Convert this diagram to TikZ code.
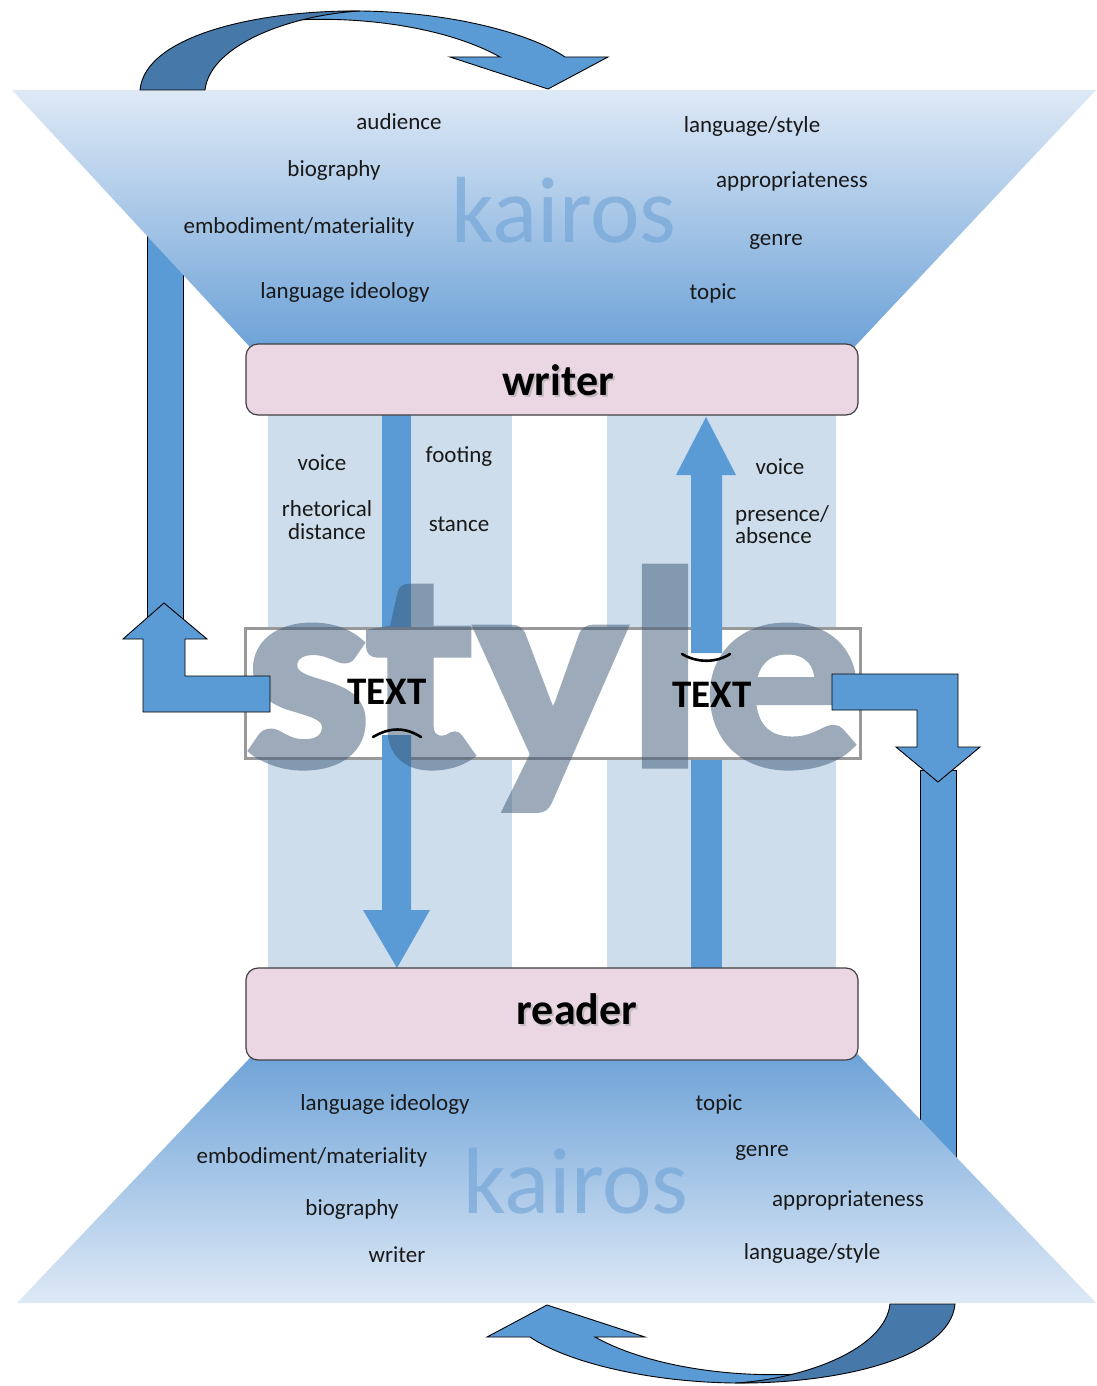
\documentclass[tikz,border=0pt]{standalone}
\usepackage{fontspec}
\setmainfont{Carlito}
\newfontfamily\stylefont{Carlito}[FakeStretch=1.12, FakeBold=2.5]
\definecolor{arrowblue}{RGB}{91,155,213}
\definecolor{arrowdark}{RGB}{70,121,170}
\definecolor{funnellight}{RGB}{222,233,246}
\definecolor{funneldark}{RGB}{104,159,214}
\definecolor{columnblue}{RGB}{205,221,235}
\definecolor{rolefill}{RGB}{234,215,227}
\definecolor{stylegray}{RGB}{58,86,116}
\definecolor{kairosblue}{RGB}{112,163,214}

% curved "turn" arrow: a light front band with its head and a dark back band
\newcommand\turnarrowshape{%
  \filldraw[blockarrow] (296,20) .. controls (330,12) and (345,11) .. (360,11)
    .. controls (450,12) and (530,33) .. (565,57) -- (608,57) -- (548,89)
    -- (450,57) -- (500,57) .. controls (452,30) and (372,16) .. (296,20) -- cycle;
  \filldraw[blockarrow, fill=arrowdark] (140,90) .. controls (145,35) and (260,10) .. (360,11)
    .. controls (290,15) and (210,45) .. (205,90) -- cycle;
}

\begin{document}
\begin{tikzpicture}[x=1pt,y=-1pt,
  lbl/.style={font=\fontsize{23}{24}\selectfont, inner sep=0pt, align=center, text=black!90},
  rolebox/.style={draw=black!75, line width=1.2pt, fill=rolefill, rounded corners=12pt},
  blockarrow/.style={fill=arrowblue, draw=black, line width=0.9pt, line join=miter},
  flowarrow/.style={fill=arrowblue},
  rolename/.style={font=\fontsize{44}{46}\selectfont\bfseries, inner sep=0pt},
  textmark/.style={font=\fontsize{39}{42}\selectfont\bfseries, inner sep=0pt},
  markline/.style={line width=2.6pt, line cap=round},
  kairos/.style={font=\fontsize{94}{100}\selectfont, text=kairosblue, opacity=0.62, inner sep=0pt}
]
\useasboundingbox (0,0) rectangle (1096,1386);
\fill[white] (0,0) rectangle (1096,1386);

% shafts that disappear behind the two funnels
\filldraw[blockarrow] (147,100) rectangle (183,625);
\filldraw[blockarrow] (920,770) rectangle (956,1290);

% the two kairos funnels
\shade[top color=funnellight, bottom color=funneldark]
  (12,90) -- (1096,90) -- (842,360) -- (262,360) -- cycle;
\shade[top color=funneldark, bottom color=funnellight]
  (267,1040) -- (844,1040) -- (1096,1303) -- (17,1303) -- cycle;

\node[kairos] (kairosTop) at (564,210) {kairos};
\node[kairos] (kairosBot) at (576,1181) {kairos};

% writer-side context
\node[lbl] (audT)  at (399,122) {audience};
\node[lbl] (bioT)  at (334,170) {biography};
\node[lbl] (embT)  at (299,227) {embodiment/materiality};
\node[lbl] (ideoT) at (345,292) {language ideology};
\node[lbl] (langT) at (752,126) {language/style};
\node[lbl] (appT)  at (792,181) {appropriateness};
\node[lbl] (genT)  at (776,242) {genre};
\node[lbl] (topT)  at (713,293) {topic};

% reader-side context
\node[lbl] (ideoB) at (385,1104) {language ideology};
\node[lbl] (embB)  at (312,1157) {embodiment/materiality};
\node[lbl] (bioB)  at (352,1209) {biography};
\node[lbl] (wriB)  at (397,1255) {writer};
\node[lbl] (topB)  at (719,1104) {topic};
\node[lbl] (genB)  at (762,1153) {genre};
\node[lbl] (appB)  at (848,1200) {appropriateness};
\node[lbl] (langB) at (812,1253) {language/style};

% turn arrows over each funnel
\turnarrowshape
\begin{scope}[rotate around={180:(547.5,697)}]
  \turnarrowshape
\end{scope}

% light columns between writer and reader
\fill[columnblue] (268,415) rectangle (512,968);
\fill[columnblue] (607,415) rectangle (836,968);

% outer parts of the writer->reader and reader->writer arrows
\fill[flowarrow] (382,410) rectangle (411,640);
\fill[flowarrow] (691,975) rectangle (722,750);

% TEXT box
\node[draw=black!40, line width=3pt, fill=white, minimum width=615pt, minimum height=130pt,
  inner sep=0pt] (textbox) at (552.5,693) {};

% inner parts of the arrows, starting at the marks
\fill[flowarrow] (382,735) -- (411,735) -- (411,910) -- (430,910) -- (397,968)
  -- (363,910) -- (382,910) -- cycle;
\fill[flowarrow] (691,653) -- (691,475) -- (676,475) -- (706,417) -- (736,475)
  -- (722,475) -- (722,653) -- cycle;

% the word "style" laid over the middle, as one translucent layer
\begin{scope}[transparency group, opacity=0.5]
  \node[anchor=base west, font=\stylefont\fontsize{282}{282}\selectfont\bfseries,
    text=stylegray, inner sep=0pt] (styleword) at (244,765) {style};
\end{scope}

% the two TEXT marks
\node[textmark] (textL) at (387,692) {TEXT};
\node[textmark] (textR) at (712,695) {TEXT};
\draw[markline] (373,737) .. controls (390,727) and (405,727) .. (421,737);
\draw[markline] (682,654) .. controls (697,663) and (716,663) .. (730,654);

% L-shaped arrows leaving the TEXT box
\filldraw[blockarrow] (270,676) -- (185,676) -- (185,639) -- (207,639) -- (164,603)
  -- (123,639) -- (143,639) -- (143,712) -- (270,712) -- cycle;
\filldraw[blockarrow] (832,674) -- (958,674) -- (958,747) -- (980,747) -- (938,782)
  -- (896,747) -- (917,747) -- (917,710) -- (832,710) -- cycle;

% writer and reader
\draw[rolebox] (246,344) rectangle (858,415);
\draw[rolebox] (246,968) rectangle (858,1060);
\node[rolename, text=black!35, opacity=0.6] at (560,382) {writer};
\node[rolename] (writer) at (558,380) {writer};
\node[rolename, text=black!35, opacity=0.6] at (579,1011) {reader};
\node[rolename] (reader) at (577,1009) {reader};

% stylistic features along the columns
\node[lbl] (voiceL)  at (322,463) {voice};
\node[lbl, font=\fontsize{23}{23}\selectfont] (rhet) at (327,520) {rhetorical\\distance};
\node[lbl] (footing) at (459,457) {footing};
\node[lbl] (stance)  at (459,524) {stance};
\node[lbl] (voiceR)  at (780,467) {voice};
\node[lbl, anchor=north west, align=left, font=\fontsize{23}{22}\selectfont] (presence)
  at (735,505) {presence/\\absence};
\end{tikzpicture}
\end{document}
